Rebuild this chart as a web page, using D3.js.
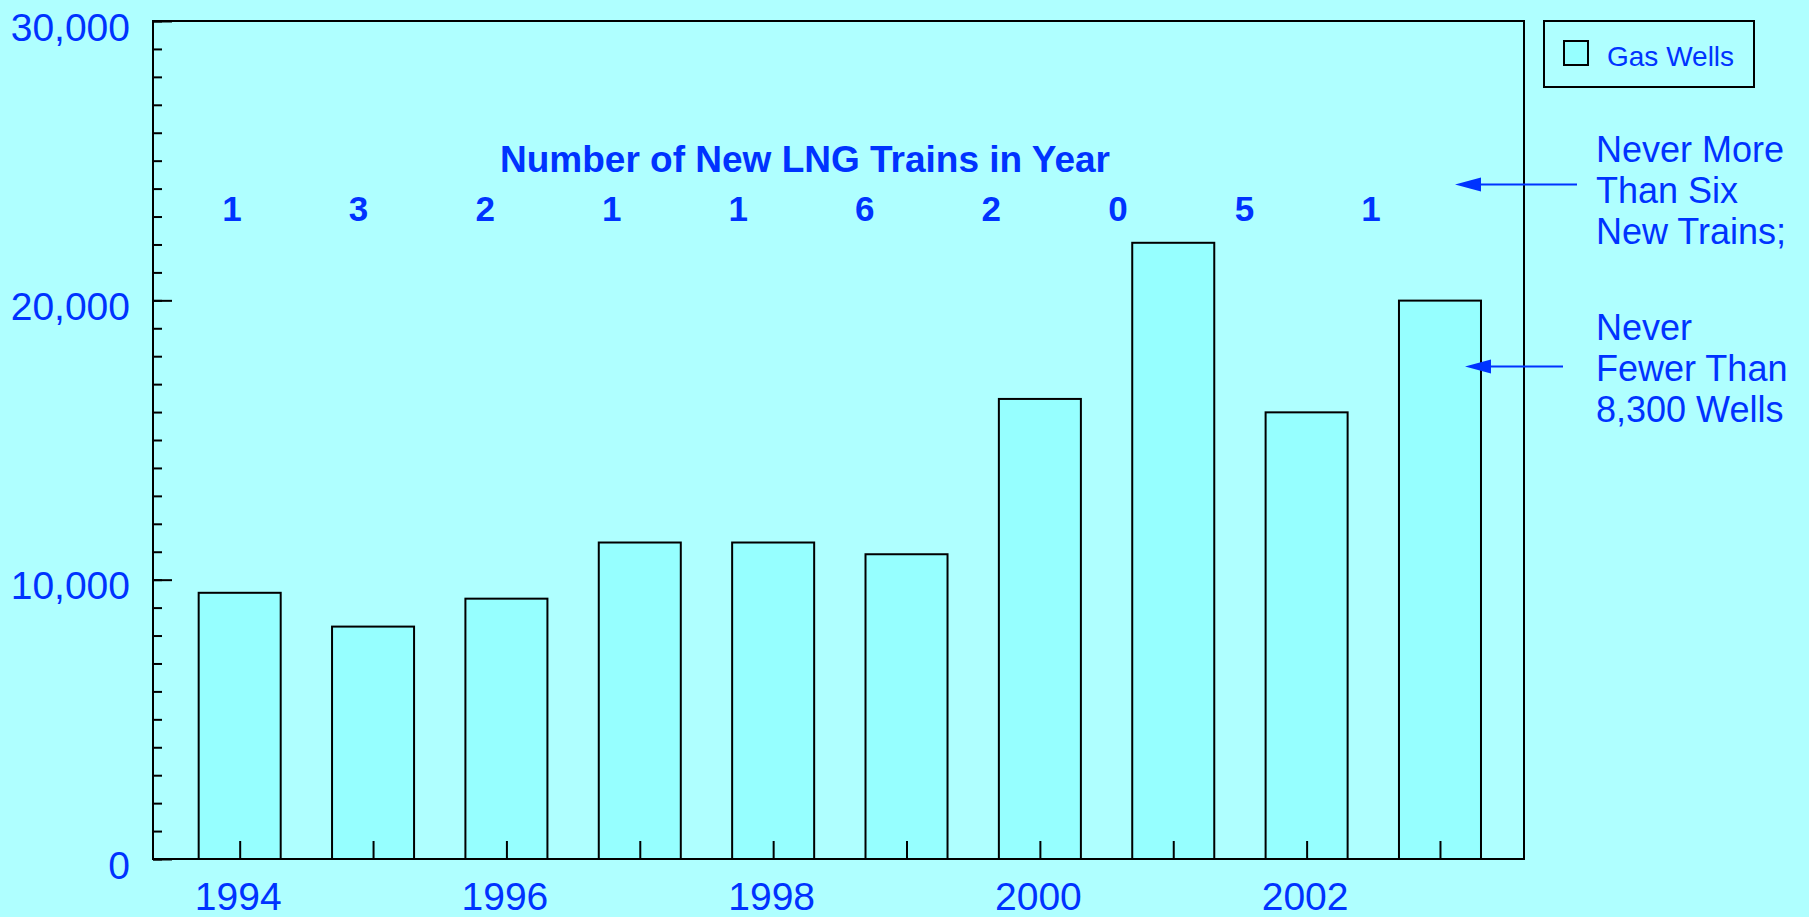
<!DOCTYPE html>
<html>
<head>
<meta charset="utf-8">
<script src="https://cdn.jsdelivr.net/npm/d3@7"></script>
<style>
  body { margin: 0; background: #afffff; }
  svg { display: block; font-family: "Liberation Sans", Arial, sans-serif; }
</style>
</head>
<body>
<div id="chart"></div>
<script>
// data
var years = [1994, 1995, 1996, 1997, 1998, 1999, 2000, 2001, 2002, 2003];
var gasWells = [9530, 8320, 9320, 11330, 11330, 10910, 16470, 22060, 15990, 19990];
var newTrains = [1, 3, 2, 1, 1, 6, 2, 0, 5, 1];
var yLabels = [0, 10000, 20000, 30000];
var trainsTitle = "Number of New LNG Trains in Year";
var legendLabel = "Gas Wells";
var noteTrains = ["Never More", "Than Six", "New Trains;"];
var noteWells = ["Never", "Fewer Than", "8,300 Wells"];

var blue = "#0033ff";

// plot frame
var plot = {left: 153, right: 1524, top: 21, bottom: 859};

var svg = d3.select("#chart")
  .append("svg")
  .attr("width", 1809)
  .attr("height", 917);

svg.append("rect")
  .attr("width", 1809).attr("height", 917)
  .attr("fill", "#afffff");

// scales
var x = d3.scaleLinear().domain([1993.35, 2003.63]).range([plot.left, plot.right]);
var y = d3.scaleLinear().domain([0, 30000]).range([plot.bottom, plot.top]);
var xTrains = d3.scalePoint().domain(years).range([232, 1371]);
var barW = x(1994.615) - x(1994);

var data = years.map(function(d, i) {
  return {year: d, wells: gasWells[i], trains: newTrains[i]};
});

// bars
svg.append("g").selectAll("rect")
  .data(data)
  .enter().append("rect")
  .attr("x", function(d) { return x(d.year) - barW / 2; })
  .attr("y", function(d) { return y(d.wells); })
  .attr("width", barW)
  .attr("height", function(d) { return y(0) - y(d.wells); })
  .attr("fill", "#96ffff")
  .attr("stroke", "#000")
  .attr("stroke-width", 2);

// frame
svg.append("rect")
  .attr("x", plot.left).attr("y", plot.top)
  .attr("width", plot.right - plot.left).attr("height", plot.bottom - plot.top)
  .attr("fill", "none")
  .attr("stroke", "#000")
  .attr("stroke-width", 2);

// y minor ticks
var yMinor = svg.append("g")
  .attr("transform", "translate(" + plot.left + ",0)")
  .call(d3.axisRight(y).tickValues(d3.range(0, 30001, 1000)).tickSize(9).tickFormat(""));
// y major ticks
var yMajor = svg.append("g")
  .attr("transform", "translate(" + plot.left + ",0)")
  .call(d3.axisRight(y).tickValues(yLabels).tickSize(19).tickFormat(""));
// y labels
var yLab = svg.append("g")
  .attr("transform", "translate(" + plot.left + ",0)")
  .call(d3.axisLeft(y).tickValues(yLabels).tickSize(0).tickPadding(23).tickFormat(d3.format(",")));

[yMinor, yMajor, yLab].forEach(function(g) {
  g.select(".domain").remove();
  g.selectAll("line").attr("stroke", "#000").attr("stroke-width", 2);
});
yLab.selectAll("text")
  .attr("dy", "0.49em")
  .attr("fill", blue)
  .style("font-size", "39px")
  .style("font-family", "Liberation Sans, Arial, sans-serif");

// x axis
var xAxis = svg.append("g")
  .attr("transform", "translate(0," + plot.bottom + ")")
  .call(d3.axisBottom(x).tickValues(years).tickSize(-18).tickPadding(23)
    .tickFormat(function(d) { return d % 2 === 0 ? d : ""; }));
xAxis.select(".domain").remove();
xAxis.selectAll("line").attr("stroke", "#000").attr("stroke-width", 2);
xAxis.selectAll("text")
  .attr("dx", -2)
  .attr("fill", blue)
  .style("font-size", "39px")
  .style("font-family", "Liberation Sans, Arial, sans-serif");

// trains title and counts
svg.append("text")
  .attr("x", 805).attr("y", 172)
  .attr("text-anchor", "middle")
  .attr("fill", blue)
  .style("font-size", "37px")
  .style("font-weight", "bold")
  .text(trainsTitle);

svg.append("g").selectAll("text")
  .data(data)
  .enter().append("text")
  .attr("x", function(d) { return xTrains(d.year); })
  .attr("y", 221)
  .attr("text-anchor", "middle")
  .attr("fill", blue)
  .style("font-size", "35px")
  .style("font-weight", "bold")
  .text(function(d) { return d.trains; });

// legend
svg.append("rect")
  .attr("x", 1544).attr("y", 21)
  .attr("width", 210).attr("height", 66)
  .attr("fill", "none").attr("stroke", "#000").attr("stroke-width", 2);
svg.append("rect")
  .attr("x", 1564).attr("y", 41)
  .attr("width", 24).attr("height", 24)
  .attr("fill", "#96ffff").attr("stroke", "#000").attr("stroke-width", 2);
svg.append("text")
  .attr("x", 1607).attr("y", 66)
  .attr("fill", blue)
  .style("font-size", "28px")
  .text(legendLabel);

// annotations with arrows
function note(lines, x0, y0) {
  var t = svg.append("text")
    .attr("x", x0).attr("y", y0)
    .attr("fill", blue)
    .style("font-size", "36px");
  lines.forEach(function(s, i) {
    t.append("tspan").attr("x", x0).attr("dy", i === 0 ? 0 : 41).text(s);
  });
}
function arrow(tipX, endX, ay) {
  svg.append("line")
    .attr("x1", tipX + 20).attr("x2", endX)
    .attr("y1", ay).attr("y2", ay)
    .attr("stroke", blue).attr("stroke-width", 2);
  svg.append("path")
    .attr("d", "M" + tipX + "," + ay + "L" + (tipX + 26) + "," + (ay - 7) +
      "L" + (tipX + 26) + "," + (ay + 7) + "Z")
    .attr("fill", blue);
}
note(noteTrains, 1596, 162);
note(noteWells, 1596, 340);
arrow(1455, 1577, 184.5);
arrow(1465, 1563, 366.5);
</script>
</body>
</html>
